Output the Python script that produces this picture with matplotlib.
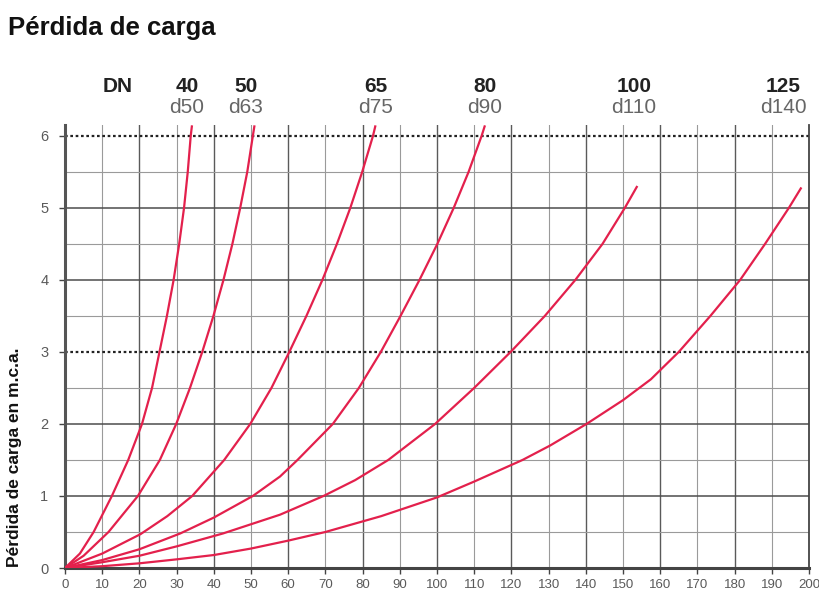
import numpy as np
import matplotlib
matplotlib.use("Agg")
import matplotlib.pyplot as plt
from matplotlib.ticker import MultipleLocator

plt.rcParams["font.family"] = ["Liberation Sans", "DejaVu Sans"]

# caudal (x) vs perdida de carga (y)
dn_labels = ["40", "50", "65", "80", "100", "125"]
d_labels = ["d50", "d63", "d75", "d90", "d110", "d140"]

x_40 = [0, 4.0, 7.7, 12.6, 17.0, 20.7, 23.4, 25.4, 27.4, 29.2, 30.7, 32.0, 33.0, 33.8, 34.1]
y_40 = [0, 0.2, 0.5, 1.0, 1.5, 2.0, 2.5, 3.0, 3.5, 4.0, 4.5, 5.0, 5.5, 6.0, 6.13]

x_50 = [0, 5.0, 11.7, 19.6, 25.5, 29.9, 33.6, 36.9, 39.9, 42.6, 45.0, 47.1, 49.0, 50.5, 50.9]
y_50 = [0, 0.17, 0.5, 1.0, 1.5, 2.0, 2.5, 3.0, 3.5, 4.0, 4.5, 5.0, 5.5, 6.0, 6.13]

x_65 = [0, 10.0, 20.3, 27.5, 34.2, 42.8, 49.8, 55.5, 60.3, 64.9, 69.2, 73.1, 76.7, 79.9, 82.8, 83.4]
y_65 = [0, 0.2, 0.47, 0.72, 1.0, 1.5, 2.0, 2.5, 3.0, 3.5, 4.0, 4.5, 5.0, 5.5, 6.0, 6.13]

x_80 = [0, 10.0, 20.0, 31.0, 40.0, 50.5, 57.8, 62.5, 72.0, 79.0, 84.9, 90.2, 95.3, 100.1, 104.5, 108.5, 112.0, 112.8]
y_80 = [0, 0.11, 0.26, 0.48, 0.70, 1.0, 1.27, 1.5, 2.0, 2.5, 3.0, 3.5, 4.0, 4.5, 5.0, 5.5, 6.0, 6.13]

x_100 = [0, 10.0, 20.0, 30.0, 42.5, 57.8, 69.5, 78.0, 86.9, 99.5, 110.0, 119.8, 129.0, 137.2, 144.5, 150.5, 153.7]
y_100 = [0, 0.08, 0.17, 0.30, 0.48, 0.74, 1.0, 1.22, 1.5, 2.0, 2.5, 3.0, 3.5, 4.0, 4.5, 5.0, 5.29]

x_125 = [0, 10.0, 20.0, 30.0, 40.0, 50.0, 60.0, 70.0, 85.0, 100.0, 110.0, 123.0, 130.4, 140.2, 150.0,
         157.5, 165.0, 173.5, 181.5, 188.2, 194.6, 197.8]
y_125 = [0, 0.025, 0.065, 0.12, 0.18, 0.27, 0.38, 0.50, 0.72, 0.98, 1.2, 1.5, 1.7, 2.0, 2.33,
         2.62, 3.0, 3.5, 4.0, 4.5, 5.0, 5.27]

curves = [(x_40, y_40), (x_50, y_50), (x_65, y_65), (x_80, y_80), (x_100, y_100), (x_125, y_125)]
label_x = [32.8, 48.6, 83.5, 112.8, 153.0, 193.0]

RED = "#e3204c"
TICK_GREY = "#5a5a5a"

fig = plt.figure(figsize=(8.2, 6.01), dpi=100)
ax = fig.add_axes([65 / 820, 1 - 568 / 601, 744 / 820, (568 - 125) / 601])
ax.set_xlim(0, 200)
ax.set_ylim(0, 6.15)

# grid
for v in range(10, 200, 10):
    ax.axvline(v, color="#5a5a5a" if v % 20 == 0 else "#9a9a9a", lw=1.0 if v % 20 == 0 else 0.8, zorder=1)
for h in np.arange(0.5, 6.0, 0.5):
    if h == 3.0:
        continue
    if h == int(h):
        ax.axhline(h, color="#4d4d4d", lw=1.1, zorder=1)
    else:
        ax.axhline(h, color="#9a9a9a", lw=0.8, zorder=1)
for h in (3.0, 6.0):
    ax.axhline(h, color="#222222", lw=1.6, ls=(0, (1.2, 1.2)), zorder=2)

for xs, ys in curves:
    ax.plot(xs, ys, color=RED, lw=1.6, zorder=3, solid_joinstyle="round")

ax.spines["top"].set_visible(False)
ax.spines["bottom"].set_linewidth(2.2)
ax.spines["bottom"].set_color("#444444")
ax.spines["left"].set_linewidth(2.2)
ax.spines["left"].set_color("#555555")
ax.spines["right"].set_linewidth(1.3)
ax.spines["right"].set_color("#444444")

ax.xaxis.set_major_locator(MultipleLocator(10))
ax.yaxis.set_major_locator(MultipleLocator(1))
ax.tick_params(axis="both", colors="#444444", labelcolor=TICK_GREY, labelsize=9.5, length=4, width=1)
ax.tick_params(axis="x", pad=4)
ax.tick_params(axis="y", pad=8, labelsize=10.5)

# DN / d labels above the curves
ax.text(14.2, 6.69, "DN", ha="center", va="center", fontsize=15, fontweight="bold", color="#222222", clip_on=False)
for lx, dn, d in zip(label_x, dn_labels, d_labels):
    ax.text(lx, 6.69, dn, ha="center", va="center", fontsize=15, fontweight="bold", color="#222222", clip_on=False)
    ax.text(lx, 6.39, d, ha="center", va="center", fontsize=15, color="#666666", clip_on=False)

fig.text(8 / 820, 1 - 28 / 601, "Pérdida de carga", ha="left", va="center", fontsize=18.5, fontweight="bold", color="#111111")
fig.text(15 / 820, 1 - 457 / 601, "Pérdida de carga en m.c.a.", rotation=90, ha="center", va="center",
         fontsize=12.5, fontweight="bold", color="#111111")

fig.savefig("out.png", dpi=100)
